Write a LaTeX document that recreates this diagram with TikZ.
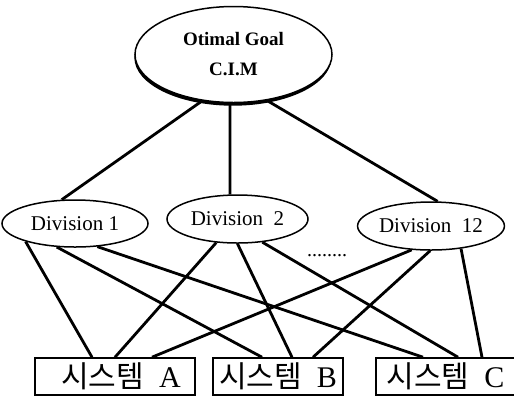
\documentclass[tikz,border=0pt]{standalone}
\usepackage{fontspec}
\setmainfont{Liberation Serif}
\newfontfamily\kor{Noto Sans CJK KR}
\usepackage{tikz}
\usetikzlibrary{shapes.geometric, shadows}

\begin{document}
\begin{tikzpicture}[x=0.5pt, y=-0.5pt,
    div/.style={draw, ellipse, line width=0.75pt, minimum height=24pt, inner sep=0pt, font=\fontsize{10.5}{12}\selectfont},
    sys/.style={draw, line width=0.8pt, minimum height=18.5pt, inner sep=0pt, font=\fontsize{15}{17}\selectfont},
    link/.style={line width=1.4pt}]
    \useasboundingbox (0,0) rectangle (514,398);
    % Objetivo
    \node[draw, ellipse, line width=0.75pt, fill=white, minimum width=98.5pt, minimum height=48pt, inner sep=0pt,
        drop shadow={shadow xshift=-0.3pt, shadow yshift=-1.6pt, fill=black, opacity=1},
        align=center, font=\fontsize{9.5}{15}\selectfont\bfseries] (goal) at (233.5,54.5) {Otimal Goal\\C.I.M};
    % Divisoes
    \node[div, minimum width=73pt, minimum height=23.5pt] (d1) at (75,223.5) {Division 1};
    \node[div, minimum width=70.5pt] (d2) at (237.5,219) {Division\ \ 2};
    \node[div, minimum width=69pt] (d12) at (431,226) {Division\ \ 12};
    \node[font=\fontsize{10}{12}\selectfont] (dots) at (327,256) {........};
    % Sistemas
    \node[sys, minimum width=80pt] (sa) at (115,376.5) {\hspace*{6pt}{\kor 시스템}\ \ A};
    \node[sys, minimum width=65pt] (sb) at (278,376.5) {{\kor 시스템}\ \ B};
    \node[sys, minimum width=69.5pt] (sc) at (445.5,376.5) {{\kor 시스템}\ \ C};
    % Ligacoes
    \draw[link] (goal.236) -- (d1.119);
    \draw[link] (goal.266) -- (d2.107);
    \draw[link] (goal.306) -- (d12.75);
    \draw[link] (d1.200) -- ([xshift=-11.5pt]sa.north);
    \draw[link] (d1.232) -- ([xshift=-8pt]sb.north);
    \draw[link] (d1.314) -- ([xshift=-11.25pt]sc.north);
    \draw[link] (d2.228) -- (sa.north);
    \draw[link] (d2.270) -- ([xshift=7pt]sb.north);
    \draw[link] (d2.317) -- ([xshift=6.25pt]sc.north);
    \draw[link] (d12.231) -- ([xshift=18.5pt]sa.north);
    \draw[link] (d12.268) -- ([xshift=17.5pt]sb.north);
    \draw[link] (d12.323) -- ([xshift=18.25pt]sc.north);
\end{tikzpicture}
\end{document}
